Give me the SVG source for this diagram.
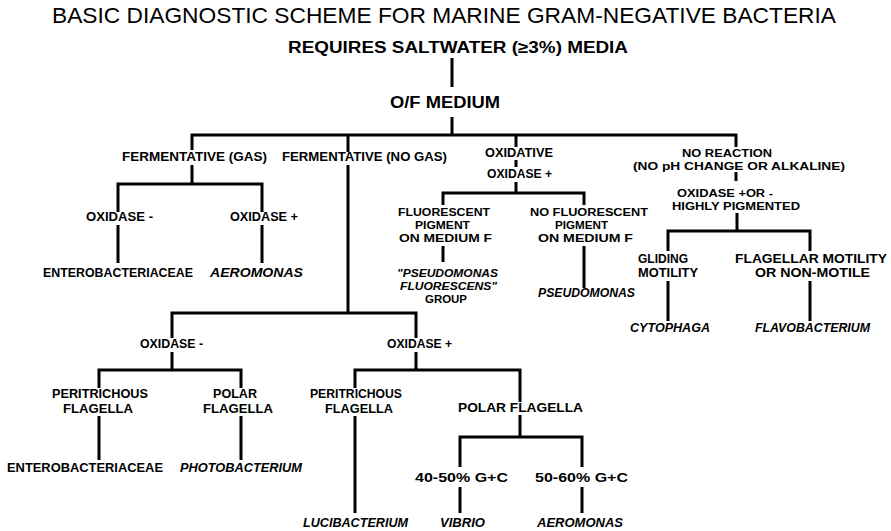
<svg xmlns="http://www.w3.org/2000/svg" width="891" height="531" viewBox="0 0 891 531">
<style>
text{font-family:"Liberation Sans",Arial,sans-serif;font-weight:bold;font-size:12px;fill:#000;text-anchor:middle}
.t{font-size:22px;font-weight:normal}
.s{font-size:16px}
.k{font-size:11px}
.i{font-style:italic}
.c{fill:none;stroke:#000;stroke-width:3;stroke-linejoin:miter;stroke-linecap:butt}
</style>
<rect width="891" height="531" fill="#fff"/>
<g id="connectors" class="c">
<path d="M452 58V87M452 117V135"/>
<path d="M192 150V135H736V147M348 135V152M516 135V147"/>
<path d="M192 165V184M118 212V184H262V212"/>
<path d="M118 225V263M262 225V263"/>
<path d="M348 165V313M172 338V313H416V338"/>
<path d="M172 352V370M99 388V370H241V388"/>
<path d="M416 352V370M355 388V370H520V402"/>
<path d="M99 416V460M241 416V460M355 416V513"/>
<path d="M520 415V437M460 467V437H582V467"/>
<path d="M460 487V513M582 487V513"/>
<path d="M516 160V167M516 182V193M443 205V193H584V205"/>
<path d="M443 246V262M584 246V288"/>
<path d="M736 172V181M737 213V231M668 251V231H810V251"/>
<path d="M668 281V321M810 281V321"/>
</g>
<g id="title"><text class="t" x="444" y="23" textLength="784" lengthAdjust="spacingAndGlyphs">BASIC DIAGNOSTIC SCHEME FOR MARINE GRAM-NEGATIVE BACTERIA</text></g>
<g id="n-saltwater"><text class="s" x="458" y="53" textLength="340" lengthAdjust="spacingAndGlyphs">REQUIRES SALTWATER (≥3%) MEDIA</text></g>
<g id="n-of"><text class="s" x="445" y="108" textLength="110" lengthAdjust="spacingAndGlyphs">O/F MEDIUM</text></g>
<g id="n-ferm-gas"><text x="194.5" y="161" textLength="145" lengthAdjust="spacingAndGlyphs">FERMENTATIVE (GAS)</text></g>
<g id="n-ferm-nogas"><text x="364.5" y="161" textLength="165" lengthAdjust="spacingAndGlyphs">FERMENTATIVE (NO GAS)</text></g>
<g id="n-oxidative"><text x="519" y="157" textLength="68" lengthAdjust="spacingAndGlyphs">OXIDATIVE</text><text x="519.5" y="178" textLength="65" lengthAdjust="spacingAndGlyphs">OXIDASE +</text></g>
<g id="n-noreaction"><text class="k" x="727" y="157" textLength="90" lengthAdjust="spacingAndGlyphs">NO REACTION</text><text class="k" x="739" y="170" textLength="212" lengthAdjust="spacingAndGlyphs">(NO pH CHANGE OR ALKALINE)</text></g>
<g id="n-g-oxneg"><text x="119.5" y="221" textLength="67" lengthAdjust="spacingAndGlyphs">OXIDASE -</text></g>
<g id="n-g-oxpos"><text x="264" y="221" textLength="68" lengthAdjust="spacingAndGlyphs">OXIDASE +</text></g>
<g id="n-g-entero"><text x="118" y="277" textLength="150" lengthAdjust="spacingAndGlyphs">ENTEROBACTERIACEAE</text></g>
<g id="n-g-aeromonas"><text class="i" x="256.5" y="277" textLength="93" lengthAdjust="spacingAndGlyphs">AEROMONAS</text></g>
<g id="n-fluor"><text class="k" x="444" y="216" textLength="92" lengthAdjust="spacingAndGlyphs">FLUORESCENT</text><text class="k" x="442.5" y="229" textLength="55" lengthAdjust="spacingAndGlyphs">PIGMENT</text><text class="k" x="445.5" y="242" textLength="93" lengthAdjust="spacingAndGlyphs">ON MEDIUM F</text></g>
<g id="n-nofluor"><text class="k" x="589" y="216" textLength="118" lengthAdjust="spacingAndGlyphs">NO FLUORESCENT</text><text class="k" x="581.5" y="229" textLength="53" lengthAdjust="spacingAndGlyphs">PIGMENT</text><text class="k" x="585.5" y="242" textLength="95" lengthAdjust="spacingAndGlyphs">ON MEDIUM F</text></g>
<g id="n-pfluor"><text class="i k" x="447.5" y="277" textLength="101" lengthAdjust="spacingAndGlyphs">"PSEUDOMONAS</text><text class="i k" x="448.5" y="290" textLength="97" lengthAdjust="spacingAndGlyphs">FLUORESCENS"</text><text class="k" x="446" y="303" textLength="42" lengthAdjust="spacingAndGlyphs">GROUP</text></g>
<g id="n-pseudo"><text class="i" x="586.5" y="297" textLength="97" lengthAdjust="spacingAndGlyphs">PSEUDOMONAS</text></g>
<g id="n-oxpm"><text class="k" x="725" y="197" textLength="96" lengthAdjust="spacingAndGlyphs">OXIDASE +OR -</text><text class="k" x="736" y="210" textLength="128" lengthAdjust="spacingAndGlyphs">HIGHLY PIGMENTED</text></g>
<g id="n-gliding"><text x="663" y="263" textLength="50" lengthAdjust="spacingAndGlyphs">GLIDING</text><text x="668" y="277" textLength="60" lengthAdjust="spacingAndGlyphs">MOTILITY</text></g>
<g id="n-flagellar"><text x="811" y="263" textLength="152" lengthAdjust="spacingAndGlyphs">FLAGELLAR MOTILITY</text><text x="812.5" y="277" textLength="115" lengthAdjust="spacingAndGlyphs">OR NON-MOTILE</text></g>
<g id="n-cytophaga"><text class="i" x="670" y="332" textLength="80" lengthAdjust="spacingAndGlyphs">CYTOPHAGA</text></g>
<g id="n-flavo"><text class="i" x="812.5" y="332" textLength="115" lengthAdjust="spacingAndGlyphs">FLAVOBACTERIUM</text></g>
<g id="n-ng-oxneg"><text x="171.5" y="348" textLength="63" lengthAdjust="spacingAndGlyphs">OXIDASE -</text></g>
<g id="n-ng-oxpos"><text x="419.5" y="348" textLength="65" lengthAdjust="spacingAndGlyphs">OXIDASE +</text></g>
<g id="n-peri1"><text x="100" y="398" textLength="96" lengthAdjust="spacingAndGlyphs">PERITRICHOUS</text><text x="98" y="413" textLength="70" lengthAdjust="spacingAndGlyphs">FLAGELLA</text></g>
<g id="n-polar1"><text x="235" y="398" textLength="44" lengthAdjust="spacingAndGlyphs">POLAR</text><text x="238" y="413" textLength="70" lengthAdjust="spacingAndGlyphs">FLAGELLA</text></g>
<g id="n-peri2"><text x="356" y="398" textLength="92" lengthAdjust="spacingAndGlyphs">PERITRICHOUS</text><text x="359" y="413" textLength="68" lengthAdjust="spacingAndGlyphs">FLAGELLA</text></g>
<g id="n-polar2"><text x="520.5" y="412" textLength="125" lengthAdjust="spacingAndGlyphs">POLAR FLAGELLA</text></g>
<g id="n-entero2"><text x="85" y="472" textLength="156" lengthAdjust="spacingAndGlyphs">ENTEROBACTERIACEAE</text></g>
<g id="n-photo"><text class="i" x="241" y="472" textLength="122" lengthAdjust="spacingAndGlyphs">PHOTOBACTERIUM</text></g>
<g id="n-gc40"><text x="461.5" y="482" textLength="93" lengthAdjust="spacingAndGlyphs">40-50% G+C</text></g>
<g id="n-gc50"><text x="581.5" y="482" textLength="93" lengthAdjust="spacingAndGlyphs">50-60% G+C</text></g>
<g id="n-luci"><text class="i" x="355.5" y="527" textLength="105" lengthAdjust="spacingAndGlyphs">LUCIBACTERIUM</text></g>
<g id="n-vibrio"><text class="i" x="462.5" y="527" textLength="45" lengthAdjust="spacingAndGlyphs">VIBRIO</text></g>
<g id="n-aero2"><text class="i" x="580" y="527" textLength="86" lengthAdjust="spacingAndGlyphs">AEROMONAS</text></g>
</svg>
